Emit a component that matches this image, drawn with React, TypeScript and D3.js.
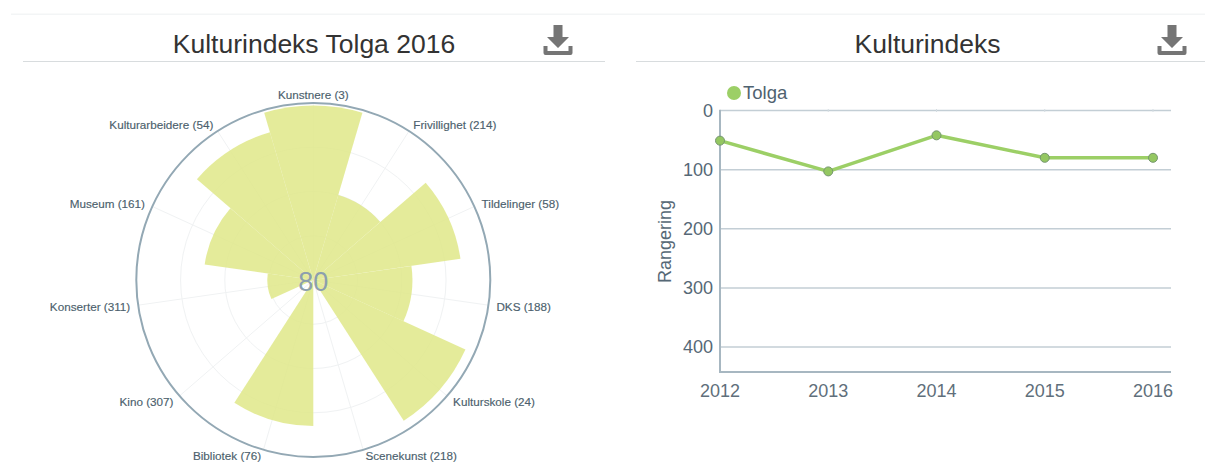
import React from "react";
import * as d3 from "d3";

const categories = ["Kunstnere", "Frivillighet", "Tildelinger", "DKS", "Kulturskole", "Scenekunst", "Bibliotek", "Kino", "Konserter", "Museum", "Kulturarbeidere"];
const ranks = [3, 214, 58, 188, 24, 218, 76, 307, 311, 161, 54];
const scores = [98.5, 50, 84, 56, 94.5, 0, 82.5, 0, 26, 62, 87];
const ringValues = [25, 50, 75, 100];
const centerLabel = "80";

const years = [2012, 2013, 2014, 2015, 2016];
const tolga = [51, 103, 42, 80, 80];
const rankTicks = [0, 100, 200, 300, 400];

const FONT = "'Liberation Sans', Arial, sans-serif";
const cx = 313.3, cy = 280, outerR = 177;

function Download({ x, y }: { x: number; y: number }) {
  return (
    <g transform={`translate(${x},${y})`} fill="#757575">
      <path d="M10 0h9v12h6.5L14.5 23 3.5 12H10z" />
      <path d="M0 21h4v5h21v-5h4v7a2 2 0 0 1-2 2H2a2 2 0 0 1-2-2z" />
    </g>
  );
}

export default function App() {
  const r = d3.scaleLinear().domain([0, 100]).range([0, outerR]);
  const step = (2 * Math.PI) / categories.length;
  const arc = d3.arc<number>()
    .innerRadius(0)
    .outerRadius((d) => r(d))
    .startAngle((_, i) => i * step - step / 2)
    .endAngle((_, i) => i * step + step / 2);

  const x = d3.scalePoint<number>().domain(years).range([720, 1153]);
  const y = d3.scaleLinear().domain([0, 400]).range([110.5, 347]);
  const line = d3.line<number>().x((_, i) => x(years[i])!).y((d) => y(d));

  return (
    <svg width={1205} height={462} style={{ position: "absolute", left: 0, top: 0, display: "block", fontFamily: FONT }}>
      <rect x={11} y={13.5} width={1194} height={1.5} fill="#f3f5f6" />

      <text x={314} y={52.5} textAnchor="middle" fontSize={26.5} fill="#333">Kulturindeks Tolga 2016</text>
      <rect x={23} y={61} width={582} height={1} fill="#d8dcde" />
      <Download x={543.5} y={25} />

      <text x={927.5} y={52.5} textAnchor="middle" fontSize={26.5} fill="#333">Kulturindeks</text>
      <rect x={636} y={61} width={569} height={1} fill="#d8dcde" />
      <Download x={1157.5} y={25} />

      <g transform={`translate(${cx},${cy})`}>
        {ringValues.slice(0, -1).map((v) => (
          <circle key={v} r={r(v)} fill="none" stroke="#f0f2f3" strokeWidth={1} />
        ))}
        {categories.map((c, i) => {
          const a = i * step;
          return <line key={c} x1={0} y1={0} x2={outerR * Math.sin(a)} y2={-outerR * Math.cos(a)} stroke="#f0f2f3" strokeWidth={1} />;
        })}
        {scores.map((s, i) => (
          <path key={categories[i]} d={arc(s, i) ?? ""} fill="#dfe888" fillOpacity={0.85} />
        ))}
        <circle r={outerR} fill="none" stroke="#93a8b4" strokeWidth={2} />
        {categories.map((c, i) => {
          const a = i * step;
          const R = outerR + 8;
          const sx = Math.sin(a);
          const py = -R * Math.cos(a);
          const anchor = i === 0 ? "middle" : sx > 0 ? "start" : "end";
          return (
            <text key={c} x={R * sx} y={Math.min(py, 175.5)} dy="0.38em" textAnchor={anchor} fontSize={11.7} fill="#4c5f6d" stroke="#4c5f6d" strokeWidth={0.15}>
              {`${c} (${ranks[i]})`}
            </text>
          );
        })}
        <text x={0} y={11} textAnchor="middle" fontSize={27} fill="#8c9fae">{centerLabel}</text>
      </g>

      {rankTicks.map((t) => (
        <g key={t}>
          <line x1={720} x2={1171} y1={y(t)} y2={y(t)} stroke="#c3ced5" strokeWidth={1.5} />
          <text x={713} y={y(t)} dy="0.36em" textAnchor="end" fontSize={18} fill="#566876">{t}</text>
        </g>
      ))}
      {years.map((yr) => (
        <g key={yr}>
          <line x1={x(yr)!} x2={x(yr)!} y1={109} y2={112} stroke="#d5dde2" />
          <text x={x(yr)!} y={396.5} textAnchor="middle" fontSize={18} fill="#5f6f7b">{yr}</text>
        </g>
      ))}
      <line x1={720} x2={720} y1={110} y2={372.5} stroke="#a7b7c1" strokeWidth={2} />
      <line x1={719} x2={1171} y1={372} y2={372} stroke="#a7b7c1" strokeWidth={2} />
      <text transform="translate(671,241.5) rotate(-90)" textAnchor="middle" fontSize={18} fill="#566876">Rangering</text>

      <circle cx={734} cy={93} r={7} fill="#9ccf66" />
      <text x={743} y={99} fontSize={18.5} fill="#4f6270">Tolga</text>

      <path d={line(tolga) ?? ""} fill="none" stroke="#9ccf66" strokeWidth={3.5} strokeLinejoin="round" />
      {tolga.map((v, i) => (
        <circle key={years[i]} cx={x(years[i])!} cy={y(v)} r={4.5} fill="#94c761" stroke="#75966f" strokeWidth={1} />
      ))}
    </svg>
  );
}
